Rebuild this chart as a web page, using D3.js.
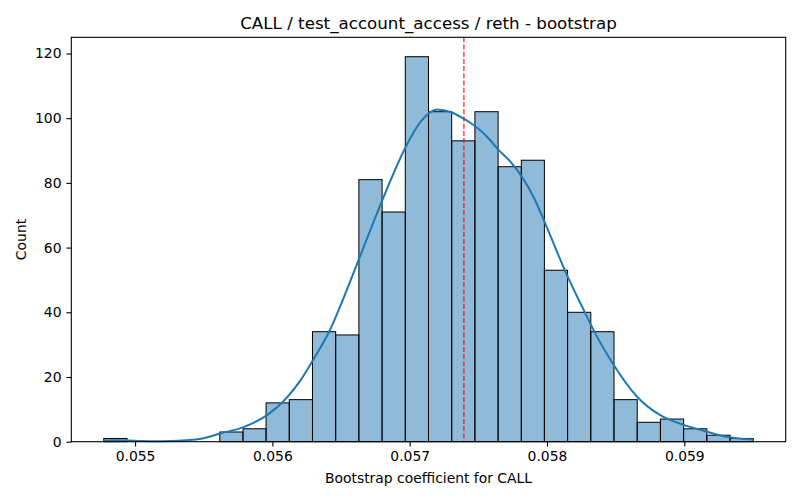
<!DOCTYPE html>
<html>
<head>
<meta charset="utf-8">
<script src="https://cdn.jsdelivr.net/npm/d3@7"></script>
<style>
  body { margin: 0; background: #fff; }
  svg { display: block; font-family: "DejaVu Sans", sans-serif; }
</style>
</head>
<body>
<svg id="chart" width="800" height="500"></svg>
<script>
// histogram bins (edges) and counts
const binEdges = [0.054772, 0.054941, 0.055110, 0.055279, 0.055448, 0.055617, 0.055786,
  0.055954, 0.056123, 0.056292, 0.056461, 0.056630, 0.056799, 0.056968, 0.057137,
  0.057306, 0.057475, 0.057644, 0.057813, 0.057981, 0.058150, 0.058319, 0.058488,
  0.058657, 0.058826, 0.058995, 0.059164, 0.059333, 0.059502]
const counts = [1, 0, 0, 0, 0, 3, 4, 12, 13, 34, 33, 81, 71, 119, 102, 93, 102, 85, 87,
  53, 40, 34, 13, 6, 7, 4, 2, 1]

// kde curve (x value, count scale)
const kdeX = [0.054772, 0.054862, 0.054949, 0.055044, 0.055153, 0.055262, 0.055371,
  0.055480, 0.055625, 0.055795, 0.055953, 0.056111, 0.056207, 0.056304, 0.056413,
  0.056522, 0.056631, 0.056801, 0.056971, 0.057080, 0.057201, 0.057298, 0.057371,
  0.057468, 0.057565, 0.057638, 0.057735, 0.057820, 0.057904, 0.057977, 0.058038,
  0.058135, 0.058256, 0.058365, 0.058486, 0.058656, 0.058825, 0.058995, 0.059165,
  0.059262, 0.059378, 0.059502]
const kdeY = [0.35, 0.42, 0.35, 0.2, 0.12, 0.2, 0.45, 0.9, 2.6, 4.6, 8.0, 13.9, 19.1,
  25.8, 34.0, 44.8, 56.5, 74.7, 91.1, 98.9, 102.7, 101.9, 100.4, 97.8, 94.2, 90.6,
  86.5, 81.7, 75.5, 68.5, 62.3, 52.5, 41.7, 32.4, 23.7, 13.9, 8.2, 5.2, 3.1, 1.9,
  1.1, 0.7]

const refValue = 0.057395
const xTicks = [0.055, 0.056, 0.057, 0.058, 0.059]
const yTicks = [0, 20, 40, 60, 80, 100, 120]

const titleText = 'CALL / test_account_access / reth - bootstrap'
const xLabel = 'Bootstrap coefficient for CALL'
const yLabel = 'Count'

const margin = { top: 37.3, right: 14.3, bottom: 58.3, left: 71.3 }
const width = 800 - margin.left - margin.right
const height = 500 - margin.top - margin.bottom

const svg = d3.select('#chart')
const g = svg.append('g')
  .attr('transform', 'translate(' + margin.left + ',' + margin.top + ')')

const lo = binEdges[0]
const hi = binEdges[binEdges.length - 1]
const pad = (hi - lo) * 0.05
const x = d3.scaleLinear().domain([lo - pad, hi + pad]).range([0, width])
const y = d3.scaleLinear().domain([0, 125]).range([height, 0])

const bins = counts.map(function (c, i) {
  return { x0: binEdges[i], x1: binEdges[i + 1], n: c }
}).filter(function (d) { return d.n > 0 })

g.selectAll('.bar')
  .data(bins)
  .enter().append('rect')
    .attr('class', 'bar')
    .attr('x', function (d) { return x(d.x0) })
    .attr('y', function (d) { return y(d.n) })
    .attr('width', function (d) { return x(d.x1) - x(d.x0) })
    .attr('height', function (d) { return y(0) - y(d.n) })
    .attr('fill', 'rgba(31,119,180,0.5)')
    .attr('stroke', '#000')
    .attr('stroke-width', 1)

const line = d3.line()
  .x(function (d) { return x(d[0]) })
  .y(function (d) { return y(d[1]) })
  .curve(d3.curveMonotoneX)

g.append('path')
  .datum(d3.zip(kdeX, kdeY))
  .attr('d', line)
  .attr('fill', 'none')
  .attr('stroke', '#1f77b4')
  .attr('stroke-width', 2)

g.append('line')
  .attr('x1', x(refValue)).attr('x2', x(refValue))
  .attr('y1', 0).attr('y2', height)
  .attr('stroke', 'red')
  .attr('stroke-width', 1.1)
  .attr('stroke-dasharray', '5,2.2')

// axes
const xAxis = g.append('g')
  .attr('transform', 'translate(0,' + height + ')')
  .call(d3.axisBottom(x).tickValues(xTicks).tickFormat(d3.format('.3f'))
    .tickSize(4.9).tickPadding(4.9))
const yAxis = g.append('g')
  .call(d3.axisLeft(y).tickValues(yTicks).tickSize(4.9).tickPadding(4.9))

;[xAxis, yAxis].forEach(function (a) {
  a.select('.domain').remove()
  a.selectAll('text').attr('font-size', 13.9).attr('fill', '#000')
    .attr('font-family', '"DejaVu Sans", sans-serif')
  a.selectAll('line').attr('stroke', '#000').attr('stroke-width', 1.1)
})

g.append('rect')
  .attr('width', width).attr('height', height)
  .attr('fill', 'none').attr('stroke', '#000').attr('stroke-width', 1.1)

svg.append('text')
  .attr('x', margin.left + width / 2).attr('y', 28.5)
  .attr('text-anchor', 'middle')
  .attr('font-size', 16.7)
  .text(titleText)

svg.append('text')
  .attr('x', margin.left + width / 2).attr('y', 482.5)
  .attr('text-anchor', 'middle')
  .attr('font-size', 13.9)
  .text(xLabel)

svg.append('text')
  .attr('transform', 'translate(26,' + (margin.top + height / 2) + ') rotate(-90)')
  .attr('text-anchor', 'middle')
  .attr('font-size', 13.9)
  .text(yLabel)
</script>
</body>
</html>
